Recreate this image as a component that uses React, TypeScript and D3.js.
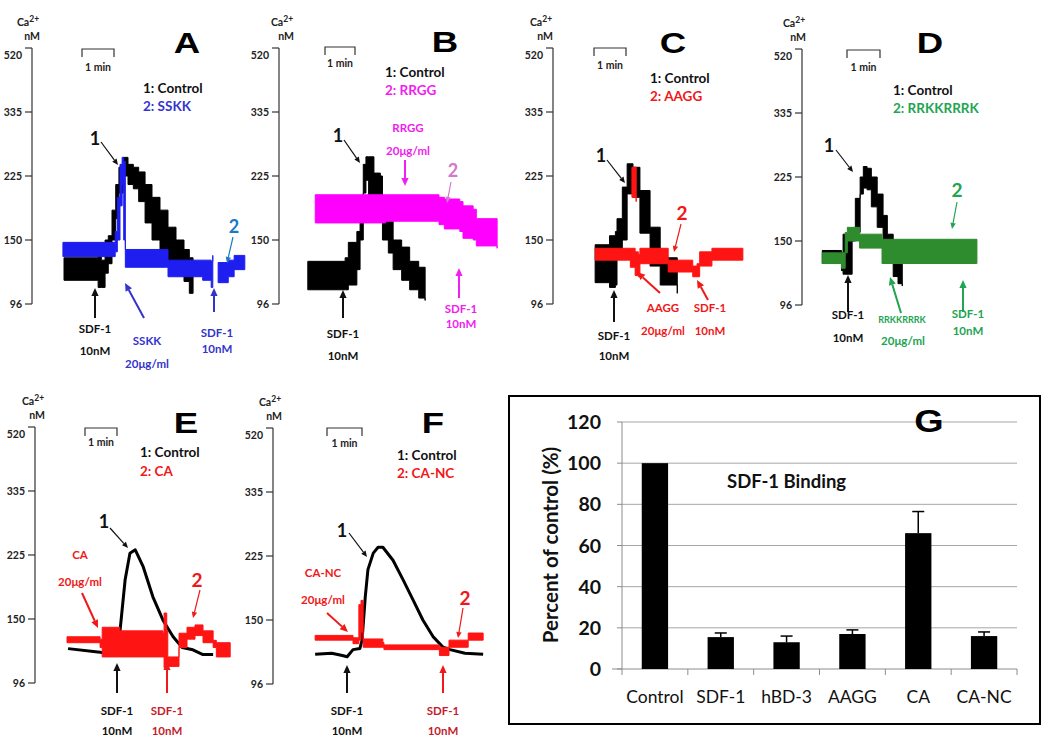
import React from 'react';
import * as d3 from 'd3';

type Band = [number, number, number];
type Pt = [number, number];

// Calcium axis ticks (nM)
const CA_TICKS = [96, 150, 225, 335, 520];

// Traces: [time s, low nM, high nM] (noisy bands) or [time s, nM] (clean lines)
const A_CONTROL: Band[] = [[60,116,135],[122,116,135],[124,110,140],[130,110,133],[137,122,150],[143,130,155],[150,150,185],[157,175,215],[163,205,240],[171,225,257],[180,215,245],[190,210,240],[200,195,232],[212,170,215],[225,150,200],[240,140,185],[255,132,165],[270,120,150],[285,115,142],[295,105,135],[302,105,125]];
const A_SSKK_1: Band[] = [[58,136,148],[152,136,148],[156,140,160],[160,150,200],[165,190,245],[169,215,257],[172,150,250],[175,127,142],[250,127,142],[255,119,133],[320,116,133],[336,110,132],[339,110,137]];
const A_SSKK_2: Band[] = [[349,114,131],[366,114,131],[368,119,133],[377,119,133],[379,125,137],[399,125,137]];

const B_CONTROL: Band[] = [[54,108,132],[124,108,135],[130,112,148],[146,125,160],[152,150,200],[158,205,245],[163,220,258],[168,200,258],[178,198,230],[190,190,225],[194,150,175],[205,139,173],[214,125,150],[230,116,144],[245,108,132],[262,101,127],[274,99,122]];
const B_RRGG: Band[] = [[68,170,203],[200,172,203],[300,168,200],[310,163,198],[339,160,195],[345,152,190],[364,150,186],[370,145,175],[409,143,168]];

const C_CONTROL: Band[] = [[79,114,146],[103,114,146],[106,110,155],[117,112,160],[120,140,175],[130,150,212],[139,204,246],[150,200,240],[163,158,208],[182,128,165],[201,112,135],[233,105,133]];
const C_AAGG: Band[] = [[79,133,143],[140,133,143],[145,127,143],[154,120,140],[160,119,138],[163,130,143],[214,130,143],[216,123,133],[258,123,133],[262,119,128],[270,119,130],[275,128,140],[298,133,143],[356,133,143]];
const C_AAGG_PEAK: Band[] = [[148,200,240],[156,195,235]];

const D_CONTROL: Band[] = [[38,131,142],[71,131,142],[74,125,140],[77,122,158],[94,150,165],[100,160,200],[109,205,225],[115,212,243],[122,210,240],[130,190,225],[141,166,205],[152,145,180],[160,135,158],[171,120,145],[180,114,136],[188,112,130]];
const D_RRKK: Band[] = [[38,131,140],[71,131,140],[74,127,140],[81,140,160],[85,150,166],[105,150,166],[108,144,158],[146,144,158],[150,131,152],[328,131,152]];

const E_CONTROL: Pt[] = [[62,125],[122,122],[137,120],[146,124],[150,126],[159,138],[169,196],[178,228],[188,234],[203,211],[221,176],[240,149],[259,135],[276,126],[296,124],[315,120],[334,120]];
const E_CA: Band[] = [[60,130,135],[120,130,135],[122,126,133],[126,118,143],[159,118,140],[240,118,138],[242,109,157],[247,109,140],[249,110,118],[266,110,118],[270,126,138],[285,133,143],[300,136,145],[315,130,140],[334,126,132],[340,118,130],[366,118,130]];

const F_CONTROL: Pt[] = [[79,121],[110,122],[130,120],[139,119],[150,125],[163,126],[167,133],[173,177],[178,209],[188,230],[197,240],[206,240],[225,220],[244,197],[263,173],[281,150],[300,136],[319,127],[332,125],[360,122],[394,121]];
const F_CANC: Band[] = [[79,133,137],[144,133,137],[150,130,135],[158,130,135],[161,133,168],[165,140,173],[169,127,134],[206,127,131],[208,125,129],[308,125,129],[312,120,127],[326,120,127],[330,127,133],[364,127,133],[366,133,139],[394,133,139]];

// Panel G: SDF-1 binding
const G_CATEGORIES = ['Control', 'SDF-1', 'hBD-3', 'AAGG', 'CA', 'CA-NC'];
const G_MEANS = [100, 15.5, 13, 17, 66, 16];
const G_UPPER = [100, 17.5, 16, 19, 76.5, 18];
const G_TICKS = [0, 20, 40, 60, 80, 100, 120];

const FONT = "Lato, 'Open Sans', sans-serif";
const TITLE_FONT = "'Liberation Sans', Arial, sans-serif";

const BLUE = '#1e1ef0';
const BLUE_T = '#3434cc';
const MAG = '#ff00ff';
const MAG_T = '#f020f0';
const RED = '#ff1414';
const RED_T = '#f01818';
const DRED = '#c41c2c';
const GREEN = '#2e8c2e';
const GREEN_T = '#22a452';

type Trace = { kind: 'band' | 'line'; data: any[]; color: string; width?: number };
type Txt = { x: number; y: number; t: string; color?: string; size?: number };
type Arr = { x1: number; y1: number; x2: number; y2: number; color?: string; w?: number; head?: number };

type PanelCfg = {
  id: string; axisX: number; base: number; caX: number;
  bracket: [number, number, number]; minY: number;
  title: [number, number];
  legend: [number, number, number]; label2: string; color2: string;
  traces: Trace[]; texts: Txt[]; arrows: Arr[];
};

const PANELS: PanelCfg[] = [
  {
    id: 'A', axisX: 32, base: 304, caX: 32, bracket: [82, 114, 49], minY: 71, title: [187, 53],
    legend: [143, 93, 111], label2: '2: SSKK', color2: BLUE_T,
    traces: [
      { kind: 'band', data: A_CONTROL, color: '#000' },
      { kind: 'band', data: A_SSKK_1, color: BLUE },
      { kind: 'band', data: A_SSKK_2, color: BLUE },
    ],
    texts: [
      { x: 95, y: 145, t: '1', size: 18 },
      { x: 234, y: 233, t: '2', size: 18, color: '#1a7ac4' },
      { x: 95, y: 333, t: 'SDF-1' }, { x: 95, y: 355, t: '10nM' },
      { x: 147, y: 345, t: 'SSKK', color: BLUE_T }, { x: 147, y: 368, t: '20μg/ml', color: BLUE_T },
      { x: 217, y: 337, t: 'SDF-1', color: BLUE_T }, { x: 217, y: 353, t: '10nM', color: BLUE_T },
    ],
    arrows: [
      { x1: 101, y1: 142, x2: 118, y2: 165 },
      { x1: 233, y1: 237, x2: 227, y2: 263, color: '#1a7ac4' },
      { x1: 95, y1: 318, x2: 95, y2: 288, w: 2, head: 8 },
      { x1: 144, y1: 318, x2: 125, y2: 283, color: BLUE_T, w: 2, head: 8 },
      { x1: 214, y1: 312, x2: 214, y2: 288, color: BLUE_T, w: 2, head: 8 },
    ],
  },
  {
    id: 'B', axisX: 279, base: 304, caX: 286, bracket: [325, 355, 47], minY: 67, title: [445, 52],
    legend: [385, 77, 95], label2: '2: RRGG', color2: MAG_T,
    traces: [
      { kind: 'band', data: B_CONTROL, color: '#000' },
      { kind: 'band', data: B_RRGG, color: MAG },
    ],
    texts: [
      { x: 338, y: 142, t: '1', size: 18 },
      { x: 408, y: 132, t: 'RRGG', color: MAG_T }, { x: 408, y: 155, t: '20μg/ml', color: MAG_T },
      { x: 453, y: 177, t: '2', size: 18, color: '#d27ac8' },
      { x: 343, y: 338, t: 'SDF-1' }, { x: 343, y: 360, t: '10nM' },
      { x: 461, y: 313, t: 'SDF-1', color: MAG_T }, { x: 461, y: 328, t: '10nM', color: MAG_T },
    ],
    arrows: [
      { x1: 344, y1: 140, x2: 360, y2: 163 },
      { x1: 405, y1: 160, x2: 405, y2: 186, color: MAG_T, w: 2, head: 8 },
      { x1: 451, y1: 182, x2: 447, y2: 203, color: '#d27ac8' },
      { x1: 343, y1: 318, x2: 343, y2: 290, w: 2, head: 8 },
      { x1: 459, y1: 298, x2: 459, y2: 268, color: MAG_T, w: 2, head: 8 },
    ],
  },
  {
    id: 'C', axisX: 553, base: 304, caX: 545, bracket: [594, 626, 48], minY: 69, title: [673, 53],
    legend: [650, 83, 101], label2: '2: AAGG', color2: RED_T,
    traces: [
      { kind: 'band', data: C_CONTROL, color: '#000' },
      { kind: 'band', data: C_AAGG_PEAK, color: RED },
      { kind: 'band', data: C_AAGG, color: RED },
    ],
    texts: [
      { x: 601, y: 162, t: '1', size: 18 },
      { x: 682, y: 220, t: '2', size: 19, color: RED_T },
      { x: 614, y: 340, t: 'SDF-1' }, { x: 614, y: 360, t: '10nM' },
      { x: 663, y: 312, t: 'AAGG', color: RED_T }, { x: 663, y: 335, t: '20μg/ml', color: RED_T },
      { x: 710, y: 312, t: 'SDF-1', color: RED_T }, { x: 710, y: 335, t: '10nM', color: RED_T },
    ],
    arrows: [
      { x1: 607, y1: 160, x2: 625, y2: 183 },
      { x1: 681, y1: 224, x2: 674, y2: 252, color: RED_T },
      { x1: 614, y1: 322, x2: 614, y2: 290, w: 2, head: 8 },
      { x1: 660, y1: 293, x2: 637, y2: 272, color: RED_T, w: 2, head: 8 },
      { x1: 708, y1: 300, x2: 697, y2: 280, color: RED_T, w: 2, head: 8 },
    ],
  },
  {
    id: 'D', axisX: 802, base: 305, caX: 798, bracket: [847, 880, 50], minY: 71, title: [930, 53],
    legend: [893, 95, 113], label2: '2: RRKKRRRK', color2: GREEN_T,
    traces: [
      { kind: 'band', data: D_CONTROL, color: '#000' },
      { kind: 'band', data: D_RRKK, color: GREEN },
    ],
    texts: [
      { x: 829, y: 152, t: '1', size: 18 },
      { x: 957, y: 197, t: '2', size: 19, color: GREEN_T },
      { x: 848, y: 319, t: 'SDF-1' }, { x: 848, y: 342, t: '10nM' },
      { x: 902, y: 323, t: 'RRKKRRRK', color: GREEN_T, size: 9 }, { x: 903, y: 345, t: '20μg/ml', color: GREEN_T },
      { x: 968, y: 318, t: 'SDF-1', color: GREEN_T }, { x: 968, y: 335, t: '10nM', color: GREEN_T },
    ],
    arrows: [
      { x1: 836, y1: 150, x2: 853, y2: 172 },
      { x1: 957, y1: 202, x2: 952, y2: 229, color: GREEN_T },
      { x1: 848, y1: 312, x2: 848, y2: 275, w: 2, head: 8 },
      { x1: 901, y1: 313, x2: 890, y2: 277, color: GREEN_T, w: 2, head: 8 },
      { x1: 963, y1: 312, x2: 963, y2: 280, color: GREEN_T, w: 2, head: 8 },
    ],
  },
  {
    id: 'E', axisX: 35, base: 683, caX: 37, bracket: [85, 117, 428], minY: 446, title: [186, 433],
    legend: [140, 457, 476], label2: '2: CA', color2: RED_T,
    traces: [
      { kind: 'line', data: E_CONTROL, color: '#000', width: 3 },
      { kind: 'band', data: E_CA, color: RED },
    ],
    texts: [
      { x: 104, y: 528, t: '1', size: 18 },
      { x: 80, y: 559, t: 'CA', color: RED_T }, { x: 80, y: 586, t: '20μg/ml', color: RED_T },
      { x: 197, y: 587, t: '2', size: 19, color: RED_T },
      { x: 117, y: 715, t: 'SDF-1' }, { x: 117, y: 735, t: '10nM' },
      { x: 167, y: 715, t: 'SDF-1', color: DRED }, { x: 167, y: 735, t: '10nM', color: DRED },
    ],
    arrows: [
      { x1: 110, y1: 528, x2: 128, y2: 548 },
      { x1: 82, y1: 593, x2: 98, y2: 628, color: RED_T, w: 2, head: 8 },
      { x1: 200, y1: 590, x2: 193, y2: 618, color: RED_T },
      { x1: 117, y1: 693, x2: 117, y2: 663, w: 2, head: 8 },
      { x1: 167, y1: 693, x2: 167, y2: 662, color: RED_T, w: 2, head: 8 },
    ],
  },
  {
    id: 'F', axisX: 273, base: 684, caX: 274, bracket: [327, 362, 428], minY: 447, title: [433, 433],
    legend: [397, 460, 478], label2: '2: CA-NC', color2: RED_T,
    traces: [
      { kind: 'line', data: F_CONTROL, color: '#000', width: 3 },
      { kind: 'band', data: F_CANC, color: RED },
    ],
    texts: [
      { x: 342, y: 537, t: '1', size: 18 },
      { x: 323, y: 577, t: 'CA-NC', color: RED_T }, { x: 323, y: 604, t: '20μg/ml', color: RED_T },
      { x: 465, y: 605, t: '2', size: 19, color: RED_T },
      { x: 347, y: 715, t: 'SDF-1' }, { x: 347, y: 735, t: '10nM' },
      { x: 443, y: 715, t: 'SDF-1', color: DRED }, { x: 443, y: 735, t: '10nM', color: DRED },
    ],
    arrows: [
      { x1: 349, y1: 533, x2: 367, y2: 557 },
      { x1: 327, y1: 613, x2: 348, y2: 632, color: RED_T, w: 2, head: 8 },
      { x1: 463, y1: 608, x2: 458, y2: 638, color: RED_T },
      { x1: 347, y1: 693, x2: 347, y2: 665, w: 2, head: 8 },
      { x1: 443, y1: 693, x2: 443, y2: 665, color: RED_T, w: 2, head: 8 },
    ],
  },
];

function Arrow({ a }: { a: Arr }) {
  const color = a.color || '#111';
  const w = a.w || 1.2;
  const head = a.head || 6;
  const ang = Math.atan2(a.y2 - a.y1, a.x2 - a.x1);
  const hw = head * 0.45;
  const bx = a.x2 - head * Math.cos(ang);
  const by = a.y2 - head * Math.sin(ang);
  const px = -Math.sin(ang) * hw;
  const py = Math.cos(ang) * hw;
  return (
    <g>
      <line x1={a.x1} y1={a.y1} x2={bx} y2={by} stroke={color} strokeWidth={w} />
      <polygon points={`${a.x2},${a.y2} ${bx + px},${by + py} ${bx - px},${by - py}`} fill={color} />
    </g>
  );
}

function Panel({ p }: { p: PanelCfg }) {
  const y = d3.scaleLinear<number>().domain(CA_TICKS).range(CA_TICKS.map((_, i) => p.base - i * 64));
  const x = d3.scaleLinear().domain([0, 60]).range([p.axisX, p.axisX + 32]);
  const area = d3.area<Band>().x(d => x(d[0])).y0(d => y(d[1])).y1(d => y(d[2])).curve(d3.curveStepAfter);
  const line = d3.line<Pt>().x(d => x(d[0])).y(d => y(d[1]));
  const top = y(520);
  const [bx0, bx1, by] = p.bracket;
  return (
    <g fontFamily={FONT} fontWeight={700}>
      {/* Calcium label */}
      <text x={p.caX - 4} y={top - 22} fontSize={10.5} textAnchor="middle" fill="#222">
        Ca<tspan fontSize={8.5} dy={-4}>2+</tspan>
      </text>
      <text x={p.caX} y={top - 8} fontSize={10.5} textAnchor="middle" fill="#222">nM</text>
      {/* Axis */}
      <line x1={p.axisX} x2={p.axisX} y1={top} y2={p.base} stroke="#333" strokeWidth={1.2} />
      {CA_TICKS.map((t, i) => (
        <g key={t}>
          <line x1={p.axisX - 7} x2={p.axisX} y1={y(t)} y2={y(t)} stroke="#333" strokeWidth={1.2} />
          <text x={p.axisX - 10} y={y(t) + 4 + (i === CA_TICKS.length - 1 ? 7 : 0)} fontSize={10.5} textAnchor="end" fill="#222">{t}</text>
        </g>
      ))}
      {/* 1 min bracket */}
      <path d={`M${bx0},${by + 8}V${by}H${bx1}V${by + 8}`} fill="none" stroke="#333" strokeWidth={1.2} />
      <text x={(bx0 + bx1) / 2} y={p.minY} fontSize={10.5} textAnchor="middle" fill="#222">1 min</text>
      {/* Title */}
      <text transform={`translate(${p.title[0]},${p.title[1]}) scale(1.22,1)`} fontSize={30} fontFamily={TITLE_FONT} fontWeight={700} textAnchor="middle" fill="#000">{p.id}</text>
      {/* Legend */}
      <text x={p.legend[0]} y={p.legend[1]} fontSize={13.5} fill="#111">1: Control</text>
      <text x={p.legend[0]} y={p.legend[2]} fontSize={13.5} fill={p.color2}>{p.label2}</text>
      {/* Traces */}
      {p.traces.map((tr, i) =>
        tr.kind === 'band' ? (
          <path key={i} d={area(tr.data as Band[]) || ''} fill={tr.color} stroke={tr.color} strokeWidth={1} strokeLinejoin="round" />
        ) : (
          <path key={i} d={line(tr.data as Pt[]) || ''} fill="none" stroke={tr.color} strokeWidth={tr.width || 2} strokeLinejoin="round" />
        )
      )}
      {/* Annotations */}
      {p.arrows.map((a, i) => <Arrow key={i} a={a} />)}
      {p.texts.map((t, i) => (
        <text key={i} x={t.x} y={t.y} fontSize={t.size || 11.5} textAnchor="middle" fill={t.color || '#111'}>{t.t}</text>
      ))}
    </g>
  );
}

function PanelG() {
  const gx = d3.scaleBand().domain(G_CATEGORIES).range([622, 1017]);
  const gy = d3.scaleLinear().domain([0, 120]).range([669, 422]);
  const bw = gx.bandwidth() * 0.4;
  const [x0, x1] = gx.range();
  const bounds = G_CATEGORIES.map(c => gx(c) as number).concat([x1]);
  return (
    <g fontFamily={FONT}>
      <rect x={509} y={396} width={531} height={328} fill="#fff" stroke="#000" strokeWidth={2} />
      {G_TICKS.filter(t => t > 0).map(t => (
        <line key={t} x1={x0} x2={x1} y1={gy(t)} y2={gy(t)} stroke="#a6a6a6" strokeWidth={1} />
      ))}
      <line x1={x0} x2={x0} y1={gy(120)} y2={gy(0)} stroke="#8c8c8c" strokeWidth={1} />
      {G_TICKS.map(t => (
        <g key={t}>
          <line x1={x0 - 5} x2={x0} y1={gy(t)} y2={gy(t)} stroke="#8c8c8c" />
          <text x={601} y={gy(t) + 7} fontSize={19.5} fontWeight={700} textAnchor="end" fill="#111">{t}</text>
        </g>
      ))}
      <line x1={x0 - 10} x2={x1} y1={gy(0)} y2={gy(0)} stroke="#8c8c8c" strokeWidth={1} />
      {bounds.map((b, i) => (
        <line key={i} x1={b} x2={b} y1={gy(0)} y2={gy(0) + 6} stroke="#8c8c8c" />
      ))}
      {G_CATEGORIES.map((c, i) => {
        const cx = (gx(c) as number) + gx.bandwidth() / 2;
        return (
          <g key={c}>
            {G_UPPER[i] > G_MEANS[i] && (
              <g stroke="#000" strokeWidth={1.5}>
                <line x1={cx} x2={cx} y1={gy(G_MEANS[i])} y2={gy(G_UPPER[i])} />
                <line x1={cx - 6} x2={cx + 6} y1={gy(G_UPPER[i])} y2={gy(G_UPPER[i])} />
              </g>
            )}
            <rect x={cx - bw / 2} y={gy(G_MEANS[i])} width={bw} height={gy(0) - gy(G_MEANS[i])} fill="#000" />
            <text x={cx} y={703} fontSize={17.5} textAnchor="middle" fill="#111">{c}</text>
          </g>
        );
      })}
      <text transform="translate(558,545) rotate(-90)" fontSize={20.5} fontWeight={700} textAnchor="middle" fill="#111">Percent of control (%)</text>
      <text x={727} y={488} fontSize={18.5} fontWeight={700} fill="#111">SDF-1 Binding</text>
      <text transform="translate(929,432) scale(1.22,1)" fontSize={31} fontWeight={700} fontFamily={TITLE_FONT} textAnchor="middle" fill="#000">G</text>
    </g>
  );
}

export default function App() {
  return (
    <svg width={1050} height={744} viewBox="0 0 1050 744" style={{ position: 'absolute', left: 0, top: 0, background: '#fff' }}>
      <rect width={1050} height={744} fill="#fff" />
      {PANELS.map(p => <Panel key={p.id} p={p} />)}
      <PanelG />
    </svg>
  );
}
